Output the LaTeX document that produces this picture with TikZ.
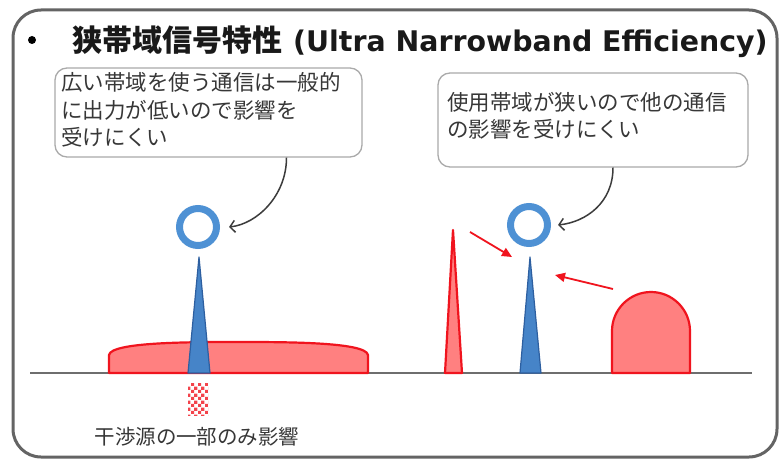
\documentclass[tikz,border=0pt]{standalone}
\usepackage{fontspec}
\usetikzlibrary{arrows.meta,patterns,calc}
\newfontfamily\jp{Noto Sans CJK JP}
\newfontfamily\dv{DejaVu Sans}
\definecolor{framegray}{RGB}{100,100,100}
\definecolor{ringblue}{RGB}{78,145,212}
\definecolor{spikeblue}{RGB}{70,132,200}
\definecolor{spikeedge}{RGB}{45,95,160}
\definecolor{redfill}{RGB}{255,128,128}
\definecolor{redline}{RGB}{240,20,30}
\definecolor{txtgray}{RGB}{55,55,55}
\definecolor{boxline}{RGB}{170,170,170}
\definecolor{tailgray}{RGB}{60,60,60}
\definecolor{basegray}{RGB}{110,110,110}
\pgfdeclarepatternformonly{finechecks}{\pgfqpoint{0pt}{0pt}}{\pgfqpoint{6.6pt}{6.6pt}}{\pgfqpoint{6.6pt}{6.6pt}}{%
  \pgfpathrectangle{\pgfqpoint{0pt}{0pt}}{\pgfqpoint{3.3pt}{3.3pt}}%
  \pgfpathrectangle{\pgfqpoint{3.3pt}{3.3pt}}{\pgfqpoint{3.3pt}{3.3pt}}%
  \pgfusepath{fill}}
\begin{document}
\begin{tikzpicture}[x=1pt,y=-1pt,
  frameline/.style={draw=framegray,line width=3pt,rounded corners=28pt},
  callbox/.style={draw=boxline,line width=1.3pt,rounded corners=12pt,fill=white,inner sep=0pt},
  ctext/.style={font=\jp\fontsize{21.5}{27.5}\selectfont,align=left,inner sep=0pt,text=txtgray,anchor=base west},
  ring/.style={circle,draw=ringblue,line width=7pt,minimum size=37pt,inner sep=0pt},
  tail/.style={draw=tailgray,line width=1.5pt,-{Straight Barb[length=5pt,width=12pt]}},
  baseln/.style={draw=basegray,line width=2.5pt},
  redshape/.style={draw=redline,fill=redfill,line width=2.2pt,line join=round},
  bluespike/.style={draw=spikeedge,fill=spikeblue,line width=1.2pt,line join=round},
  redarrow/.style={draw=redline,line width=1.8pt,-{Triangle[length=10pt,width=9pt]}},
  checker/.style={rectangle,inner sep=0pt,minimum width=20pt,minimum height=32pt,fill=white,postaction={pattern=finechecks,pattern color=redline!80}},
  lbl/.style={font=\jp\fontsize{20.5}{24}\selectfont,text=txtgray,inner sep=0pt}
]
\useasboundingbox (0,0) rectangle (780,460);
\fill[white] (0,0) rectangle (780,460);
\draw[frameline] (13,10) rectangle (777,457);

% title
\node[circle,fill=black,inner sep=0pt,minimum size=8pt] (bul) at (32,40) {};
\node[anchor=base west,inner sep=0pt,text=black!90] (title) at (72,52)
  {{\jp\bfseries\fontsize{30}{36}\selectfont 狭帯域信号特性}\hspace{11pt}{\dv\bfseries\fontsize{28.4}{34}\selectfont (Ultra Narrowband Efficiency)}};

% callouts
\node[callbox,minimum width=307pt,minimum height=89pt] (c1) at (208.5,112.5) {};
\node[ctext] (t1) at (61,146) {広い帯域を使う通信は一般的\\に出力が低いので影響を\\受けにくい};
\node[callbox,minimum width=310pt,minimum height=94pt] (c2) at (593,120) {};
\node[ctext] (t2) at (447,138) {使用帯域が狭いので他の通信\\の影響を受けにくい};

% baseline
\coordinate (bl) at (30,373);
\coordinate (br) at (752,373);
\draw[baseln] (bl) -- (br);

% left group
\draw[redshape] (109,373) -- (109,355) .. controls (111,342) and (190,342) .. (238,342)
   .. controls (286,342) and (366,342) .. (368,355) -- (368,373) -- cycle;
\draw[bluespike] (188,373) -- (199,257) -- (210,373) -- cycle;
\node[ring] (r1) at (198,227) {};
\node[checker] (chk) at (198,399) {};
\node[lbl] (l3) at (197,437) {干渉源の一部のみ影響};

% right group
\draw[redshape] (445,373) -- (453,230) -- (462,373) -- cycle;
\draw[bluespike] (520,373) -- (530,257) -- (541,373) -- cycle;
\draw[redshape] (612,373) -- (612,331) .. controls (612,309.5) and (629.5,292) .. (651,292)
   .. controls (672.5,292) and (690,309.5) .. (690,331) -- (690,373) -- cycle;
\node[ring] (r2) at (529,225) {};

% red arrows
\coordinate (a1s) at (470,232);
\coordinate (a1e) at (512,257);
\coordinate (a2s) at (613,289);
\coordinate (a2e) at (555,275);
\draw[redarrow] (a1s) -- (a1e);
\draw[redarrow] (a2s) -- (a2e);

% callout tails
\coordinate (s1) at ([xshift=78pt]c1.south);
\coordinate (e1) at ([xshift=9pt]r1.east);
\draw[tail] (s1) .. controls ($(s1)+(0,38)$) and ($(e1)+(28,-3)$) .. (e1);
\coordinate (s2) at ([xshift=20pt]c2.south);
\coordinate (e2) at ([xshift=7pt]r2.east);
\draw[tail] (s2) .. controls ($(s2)+(0,35)$) and ($(e2)+(28,-3)$) .. (e2);
\end{tikzpicture}
\end{document}
